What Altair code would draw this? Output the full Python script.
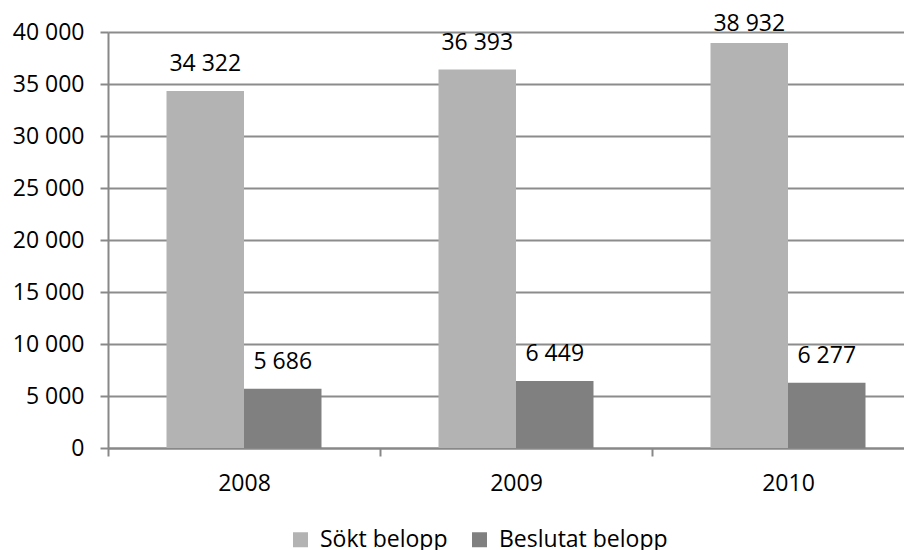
import altair as alt
import pandas as pd

years = ["2008", "2009", "2010"]
series = ["Sökt belopp", "Beslutat belopp"]
sokt = [34322, 36393, 38932]
beslutat = [5686, 6449, 6277]
colors = ["#b3b3b3", "#808080"]

rows = []
for i, y in enumerate(years):
    rows.append({"year": y, "series": series[0], "value": sokt[i]})
    rows.append({"year": y, "series": series[1], "value": beslutat[i]})
df = pd.DataFrame(rows)

FONT = "Open Sans"
fmt = "replace(format(datum.value, ','), ',', ' ')"

x = alt.X("year:N", title=None, sort=years,
          scale=alt.Scale(range=[0, 816], paddingInner=0, paddingOuter=0),
          axis=alt.Axis(labelAngle=0, tickBand="extent", grid=False,
                        domainColor="#888888", domainWidth=2, tickColor="#888888",
                        tickWidth=2, tickSize=8, labelPadding=16,
                        labelFontSize=23, labelFont=FONT, labelColor="#000000"))
xo = alt.XOffset("series:N", sort=series,
                 scale=alt.Scale(paddingInner=0, paddingOuter=0.755))
y = alt.Y("value:Q", title=None,
          scale=alt.Scale(domain=[0, 40000], nice=False),
          axis=alt.Axis(values=list(range(0, 40001, 5000)), labelExpr=fmt,
                        domainColor="#888888", domainWidth=2, tickColor="#888888",
                        tickWidth=2, tickSize=8, labelPadding=16,
                        gridColor="#8c8c8c", gridWidth=2,
                        labelFontSize=23, labelFont=FONT, labelColor="#000000"))

bars = alt.Chart(df).mark_bar().encode(
    x=x, xOffset=xo, y=y,
    color=alt.Color("series:N", sort=series,
                    scale=alt.Scale(domain=series, range=colors),
                    legend=alt.Legend(title=None, orient="none", direction="horizontal",
                                      legendX=181, legendY=496, padding=0,
                                      symbolType="square", symbolSize=225,
                                      symbolStrokeWidth=0, labelOffset=8,
                                      columnPadding=20, labelLimit=400,
                                      labelFontSize=23, labelFont=FONT,
                                      labelColor="#000000")),
)

labels = alt.Chart(df).transform_calculate(
    label=fmt,
    labely="min(datum.value + 1900, 40100)"
).mark_text(baseline="alphabetic", fontSize=23, font=FONT, color="#000000", clip=False).encode(
    x=x, xOffset=xo,
    y=alt.Y("labely:Q", scale=alt.Scale(domain=[0, 40000], nice=False)),
    text="label:N"
)

chart = alt.layer(bars, labels).properties(
    width=796, height=416,
    autosize=alt.AutoSizeParams(type="none"),
    padding={"left": 100, "top": 24, "right": 0, "bottom": 102},
).configure_view(stroke=None)

chart.save("out.html", embed_options={"renderer": "svg", "actions": False})
